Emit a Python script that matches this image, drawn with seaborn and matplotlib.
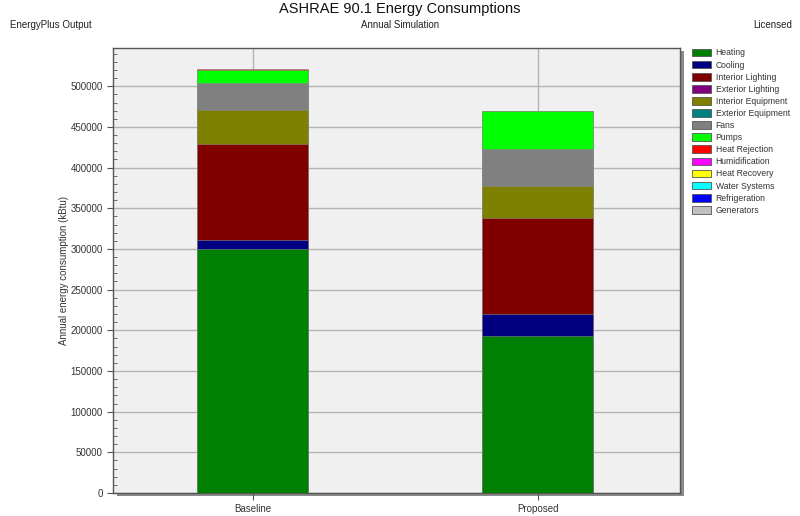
import matplotlib
matplotlib.use("Agg")
import matplotlib.pyplot as plt
from matplotlib.patches import Patch, Rectangle
from matplotlib.ticker import MultipleLocator
import seaborn as sns
import pandas as pd
import numpy as np

categories = ["Baseline", "Proposed"]
end_uses = ["Heating", "Cooling", "Interior Lighting", "Exterior Lighting",
            "Interior Equipment", "Exterior Equipment", "Fans", "Pumps",
            "Heat Rejection", "Humidification", "Heat Recovery", "Water Systems",
            "Refrigeration", "Generators"]
baseline = [300500, 11100, 117000, 0, 41800, 0, 33300, 16800, 900, 0, 0, 0, 0, 0]
proposed = [193300, 26700, 117800, 0, 39400, 0, 46100, 45900, 800, 0, 0, 0, 0, 0]
colors = ["#008000", "#000080", "#800000", "#800080", "#808000", "#008080",
          "#808080", "#00FF00", "#FF0000", "#FF00FF", "#FFFF00", "#00FFFF",
          "#0000FF", "#C0C0C0"]
yticks = list(range(0, 550000, 50000))

sns.set_style("white")
plt.rcParams["font.family"] = ["Liberation Sans", "DejaVu Sans"]

fig = plt.figure(figsize=(8, 5.16), dpi=100)
W, H = 800, 516
ax_l, ax_r, ax_t, ax_b = 113, 680, 48, 493
ax = fig.add_axes([ax_l / W, 1 - ax_b / H, (ax_r - ax_l) / W, (ax_b - ax_t) / H])

# shadow
fig.patches.append(Rectangle(((ax_l + 4) / W, 1 - (ax_b + 3) / H), (ax_r - ax_l) / W, (ax_b - ax_t) / H,
                             transform=fig.transFigure, facecolor="#8a8a8a", edgecolor="none", zorder=0))
ax.set_zorder(1)
ax.set_facecolor("#F0F0F0")

df = pd.DataFrame({"category": np.repeat(categories, len(end_uses)),
                   "end_use": end_uses * 2,
                   "value": baseline + proposed})
cum = df.copy()
cum["cum"] = df.groupby("category")["value"].cumsum()

for i in range(len(end_uses) - 1, -1, -1):
    sub = cum[cum["end_use"] == end_uses[i]]
    if sub["value"].sum() == 0:
        continue
    sns.barplot(data=sub, x="category", y="cum", order=categories, color=colors[i],
                width=0.39, ax=ax, saturation=1, edgecolor="#8a8a8a", linewidth=0.4,
                zorder=3)

ax.set_xlim(-0.49, 1.5)
ax.set_ylim(0, 547000)
ax.set_yticks(yticks)
ax.set_yticklabels([str(v) for v in yticks], fontsize=7, color="#333333")
ax.yaxis.set_minor_locator(MultipleLocator(10000))
ax.tick_params(axis="y", which="major", direction="out", length=4, width=0.8, color="#555555", left=True)
ax.tick_params(axis="y", which="minor", direction="in", length=3, width=0.6, color="#555555", left=True)
ax.tick_params(axis="x", which="major", direction="out", length=5, width=0.8, color="#555555", bottom=True, pad=3)
ax.set_xticks([0, 1])
ax.set_xticklabels(categories, fontsize=7, color="#333333")
ax.set_xlabel("")
ax.set_ylabel("Annual energy consumption (kBtu)", fontsize=7, color="#333333", labelpad=1)
ax.grid(True, axis="both", which="major", color="#b4b4b4", linewidth=1.0, zorder=0)
ax.set_axisbelow(True)
for s in ax.spines.values():
    s.set_color("#555555")
    s.set_linewidth(1.0)
    s.set_visible(True)

fig.text(0.5, 1 - 9 / H, "ASHRAE 90.1 Energy Consumptions", ha="center", va="center", fontsize=10.5, color="#111111")
fig.text(10 / W, 1 - 25 / H, "EnergyPlus Output", ha="left", va="center", fontsize=7, color="#222222")
fig.text(0.5, 1 - 25 / H, "Annual Simulation", ha="center", va="center", fontsize=7, color="#222222")
fig.text(792 / W, 1 - 25 / H, "Licensed", ha="right", va="center", fontsize=7, color="#222222")

handles = [Patch(facecolor=c, edgecolor="#555555", linewidth=0.6, label=l) for c, l in zip(colors, end_uses)]
fig.legend(handles=handles, loc="upper left", bbox_to_anchor=(689 / W, 1 - 45 / H), frameon=False,
           fontsize=6.2, handlelength=2.2, handleheight=1.0, handletextpad=0.5, labelspacing=0.36,
           borderaxespad=0, labelcolor="#333333")

fig.savefig("out.png", dpi=100, facecolor="white")
